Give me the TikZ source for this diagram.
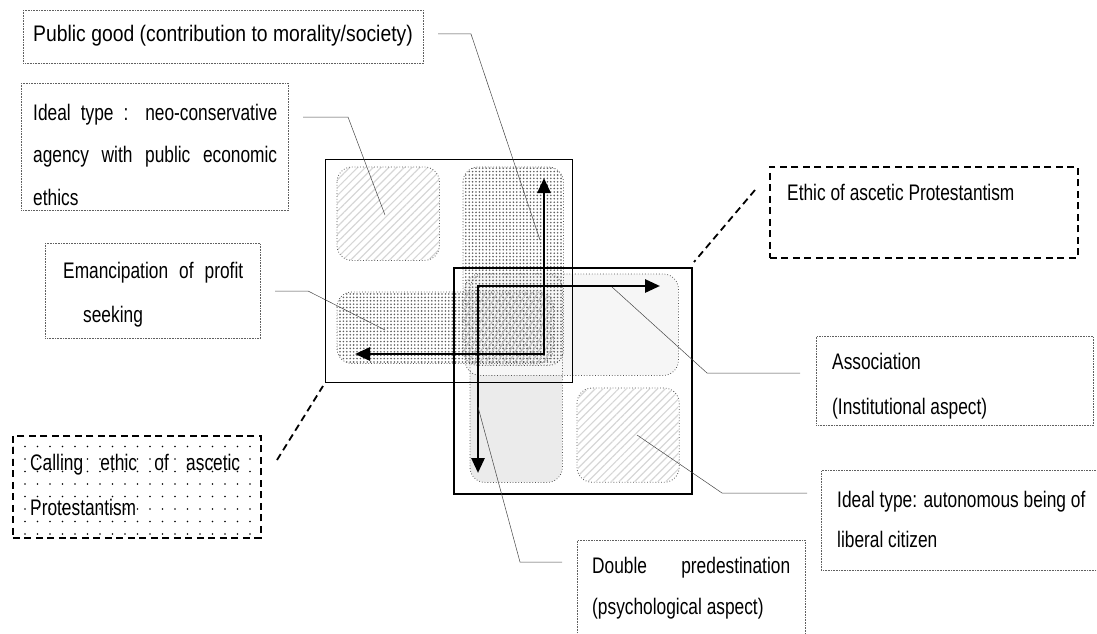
\documentclass[tikz,border=0pt]{standalone}
\usepackage{fontspec}
\setmainfont[FakeStretch=0.77]{Liberation Sans}
\newfontfamily\widefont[FakeStretch=0.86]{Liberation Sans}
\usetikzlibrary{patterns.meta,arrows.meta}

\tikzset{
  callout/.style={draw=gray!75!black, densely dotted, line width=0.6pt, anchor=north west, inner sep=0pt},
  dashbox/.style={draw=black, line width=1.8pt, dash pattern=on 7pt off 4.5pt, anchor=north west, inner sep=0pt},
  txt/.style={anchor=base west, inner sep=0pt, font=\fontsize{22.5}{#1}\selectfont},
  txt/.default=42,
  quadframe/.style={draw=black, anchor=north west, inner sep=0pt},
  cellbase/.style={rounded corners=15pt, anchor=north west, inner sep=0pt},
  dotcell/.style={cellbase, pattern={Dots[distance=3.4pt, radius=0.9pt]}, pattern color=gray!75!black},
  hatchcell/.style={cellbase, pattern={Lines[angle=45, distance=5.5pt, line width=1.2pt]}, pattern color=gray!32},
  greycell/.style={cellbase, fill=#1},
  cellrim/.style={draw=gray!65!black, dotted, line width=0.8pt},
  leader/.style={draw=gray!55!black, line width=0.5pt},
  dashlead/.style={draw=black, line width=1.8pt, dash pattern=on 7pt off 4.5pt},
  axis/.style={line width=2.8pt, {Triangle[length=15pt,width=13pt]}-{Triangle[length=15pt,width=13pt]}},
}

\begin{document}
\begin{tikzpicture}[x=1pt, y=-1pt]
\useasboundingbox (0,0) rectangle (1097,634);

% ---- lower right quadrant: cell fills ----
\node[greycell=gray!16, minimum width=92pt, minimum height=208pt] (Rv) at (470,274) {};
\node[greycell=gray!7, minimum width=213pt, minimum height=101pt] (Rh) at (465,274) {};
\node[hatchcell, minimum width=101pt, minimum height=93pt] (Rd) at (577,388) {};

% ---- upper left quadrant: cell fills ----
\node[hatchcell, minimum width=102pt, minimum height=93pt] (Lh) at (337,167) {};
\node[dotcell, minimum width=100pt, minimum height=198pt] (Lv) at (463,167) {};
\node[dotcell, minimum width=216pt, minimum height=71pt] (Lb) at (337,292) {};
% overlap of the two dotted cells
\begin{scope}
  \clip[rounded corners=15pt] (Lv.north west) rectangle (Lv.south east);
  \fill[pattern={Lines[angle=60, distance=5pt, line width=1.1pt]}, pattern color=gray!50,
        rounded corners=15pt] (Lb.north west) rectangle (Lb.south east);
\end{scope}

% ---- cell outlines ----
\foreach \c in {Rv,Rh,Rd,Lh,Lv,Lb}
  \draw[cellrim, rounded corners=15pt] (\c.north west) rectangle (\c.south east);

% ---- the two quadrant frames ----
\node[quadframe, line width=1.3pt, minimum width=247pt, minimum height=223pt] (L) at (325,159) {};
\node[quadframe, line width=2pt, minimum width=238pt, minimum height=226pt] (R) at (453,267) {};

% ---- axes ----
\coordinate (aW) at (355,354);
\coordinate (aC) at (544,354);
\coordinate (aN) at (544,178);
\draw[axis] (aW) -- (aC) -- (aN);
\coordinate (bE) at (660,286);
\coordinate (bC) at (478,286);
\coordinate (bS) at (478,473);
\draw[axis] (bE) -- (bC) -- (bS);

% ---- callout boxes ----
\node[callout, minimum width=400pt, minimum height=53pt] (pg) at (23,10) {};
\node[txt] (pgT) at (33,42) {\widefont Public good (contribution to morality/society)};

\node[callout, minimum width=267pt, minimum height=127pt] (it) at (21,83) {};
\node[txt=42.5, text width=244pt, align=justify] (itT) at (33,120)
  {Ideal type : neo-conservative\linebreak agency with public economic\linebreak ethics};

\node[callout, minimum width=215pt, minimum height=95pt] (em) at (45,243) {};
\node[txt=44, text width=180pt, align=justify] (emT) at (63,278)
  {Emancipation of profit\linebreak\hspace*{20pt}seeking};

\node[dashbox, pattern={Dots[distance=12.5pt, radius=0.9pt]}, pattern color=black,
      minimum width=248pt, minimum height=102pt] (ca) at (12,435) {};
\node[txt=45, text width=210pt, align=justify] (caT) at (30,470)
  {Calling ethic of ascetic\linebreak Protestantism};

\node[dashbox, minimum width=308pt, minimum height=91pt] (et) at (769,166) {};
\node[txt] (etT) at (787,200) {Ethic of ascetic Protestantism};

\node[callout, minimum width=277pt, minimum height=89pt] (as) at (816,336) {};
\node[txt=45, text width=250pt, align=flush left] (asT) at (832,369) {Association\\(Institutional aspect)};

\node[callout, minimum width=300pt, minimum height=100pt] (au) at (821,470) {};
\node[txt=40, text width=258pt, align=flush left] (auT) at (837,507) {Ideal type: autonomous being of\\liberal citizen};

\node[callout, minimum width=228pt, minimum height=110pt] (dp) at (577,540) {};
\node[txt=41, text width=198pt, align=justify] (dpT) at (592,573)
  {Double predestination\linebreak (psychological aspect)};

% ---- leader lines ----
\coordinate (pgA) at (438,34);  \coordinate (pgB) at (471,34);  \coordinate (pgE) at (540,240);
\draw[leader] (pgA) -- (pgB) -- (pgE);
\coordinate (itA) at (303,117); \coordinate (itB) at (348,117); \coordinate (itE) at (385,215);
\draw[leader] (itA) -- (itB) -- (itE);
\coordinate (emA) at (275,291); \coordinate (emB) at (308,291); \coordinate (emE) at (385,330);
\draw[leader] (emA) -- (emB) -- (emE);
\coordinate (asA) at (800,373); \coordinate (asB) at (707,373); \coordinate (asE) at (612,287);
\draw[leader] (asA) -- (asB) -- (asE);
\coordinate (auA) at (807,493); \coordinate (auB) at (722,493); \coordinate (auE) at (637,435);
\draw[leader] (auA) -- (auB) -- (auE);
\coordinate (dpA) at (562,562); \coordinate (dpB) at (520,562); \coordinate (dpE) at (478,407);
\draw[leader] (dpA) -- (dpB) -- (dpE);

% ---- dashed links to the frames ----
\coordinate (etA) at (755,190); \coordinate (etB) at (694,262);
\draw[dashlead] (etA) -- (etB);
\coordinate (caA) at (277,460); \coordinate (caB) at (323,386);
\draw[dashlead] (caA) -- (caB);
\end{tikzpicture}
\end{document}
